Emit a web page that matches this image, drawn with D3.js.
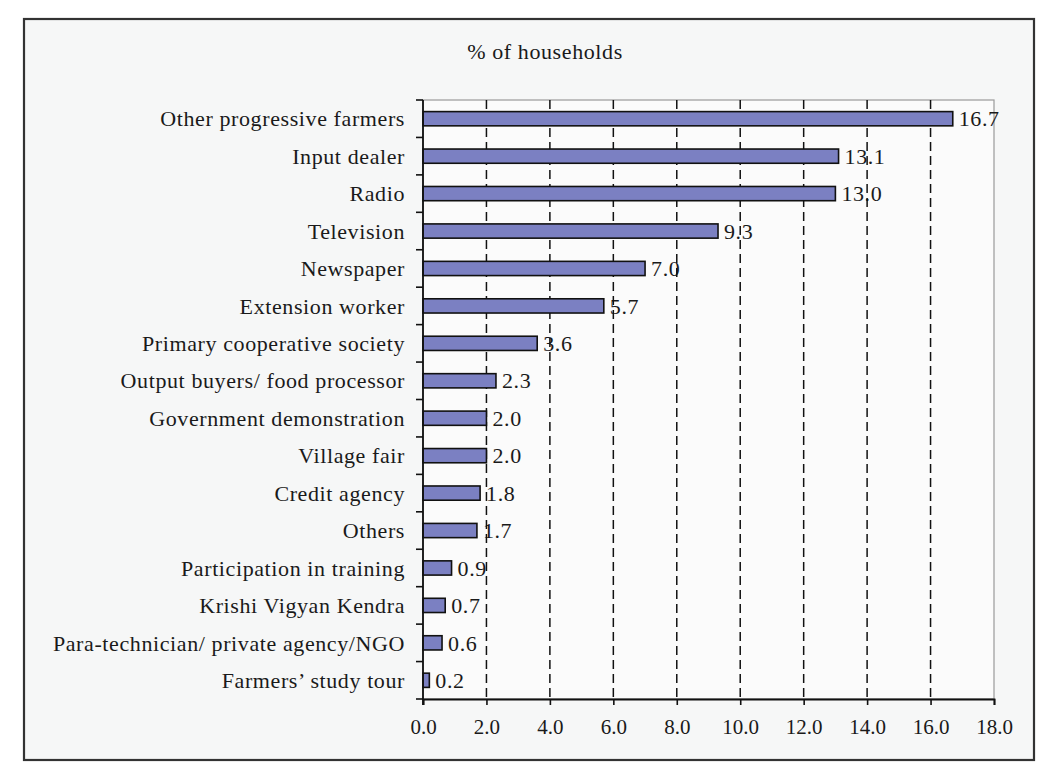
<!DOCTYPE html>
<html>
<head>
<meta charset="utf-8">
<script src="https://cdn.jsdelivr.net/npm/d3@7"></script>
<style>
  html, body { margin: 0; padding: 0; background: #ffffff; }
  svg { display: block; }
  text { font-family: "Liberation Serif", "Times New Roman", serif; fill: #1a1a1a; }
</style>
</head>
<body>
<svg id="chart" width="1063" height="766"></svg>
<script>
const title = "% of households";
const categories = [
  "Other progressive farmers",
  "Input dealer",
  "Radio",
  "Television",
  "Newspaper",
  "Extension worker",
  "Primary cooperative society",
  "Output buyers/ food processor",
  "Government demonstration",
  "Village fair",
  "Credit agency",
  "Others",
  "Participation in training",
  "Krishi Vigyan Kendra",
  "Para-technician/ private agency/NGO",
  "Farmers\u2019 study tour"
];
const values = [16.7, 13.1, 13.0, 9.3, 7.0, 5.7, 3.6, 2.3, 2.0, 2.0, 1.8, 1.7, 0.9, 0.7, 0.6, 0.2];
const xTicks = [0, 2, 4, 6, 8, 10, 12, 14, 16, 18];

const data = categories.map((c, i) => ({ cat: c, val: values[i] }));

const svg = d3.select("#chart");
const frame = { x: 24, y: 19, w: 1010, h: 741 };
const plot = { left: 423, right: 994, top: 100, bottom: 699 };
const fontSize = 22;
const spacing = "0.6px";

// outer frame
svg.append("rect")
  .attr("x", frame.x).attr("y", frame.y)
  .attr("width", frame.w).attr("height", frame.h)
  .attr("fill", "#f6f7f7")
  .attr("stroke", "#333")
  .attr("stroke-width", 2.2);

// plot area
svg.append("rect")
  .attr("x", plot.left).attr("y", plot.top)
  .attr("width", plot.right - plot.left).attr("height", plot.bottom - plot.top)
  .attr("fill", "#fbfbfb")
  .attr("stroke", "#9a9a9a")
  .attr("stroke-width", 1.2);

const x = d3.scaleLinear().domain([0, 18]).range([plot.left, plot.right]);
const yRow = d3.scaleBand().domain(categories).range([plot.top, plot.bottom]).padding(0);
const yBar = d3.scaleBand().domain(categories).range([plot.top, plot.bottom])
  .paddingInner(0.62).paddingOuter(0.31);

// title
svg.append("text")
  .attr("x", 545).attr("y", 59)
  .attr("text-anchor", "middle")
  .attr("font-size", fontSize)
  .attr("letter-spacing", spacing)
  .text(title);

// value labels (drawn beneath gridlines, as in the reference)
svg.append("g").selectAll("text").data(data).join("text")
  .attr("x", d => x(d.val) + 6)
  .attr("y", d => yRow(d.cat) + yRow.bandwidth() / 2)
  .attr("dy", "0.35em")
  .attr("font-size", fontSize)
  .attr("letter-spacing", spacing)
  .text(d => d3.format(".1f")(d.val));

// dashed gridlines
svg.append("g").selectAll("line").data(xTicks.filter(t => t > 0 && t < 18)).join("line")
  .attr("x1", d => x(d)).attr("x2", d => x(d))
  .attr("y1", plot.top).attr("y2", plot.bottom)
  .attr("stroke", "#111")
  .attr("stroke-width", 1.5)
  .attr("stroke-dasharray", "9,5");

// bars
svg.append("g").selectAll("rect").data(data).join("rect")
  .attr("x", x(0))
  .attr("y", d => yBar(d.cat))
  .attr("width", d => x(d.val) - x(0))
  .attr("height", yBar.bandwidth())
  .attr("fill", "#7b80c2")
  .attr("stroke", "#111")
  .attr("stroke-width", 1.6);

// y axis: line + ticks at row boundaries
const yAxisG = svg.append("g");
yAxisG.append("line")
  .attr("x1", plot.left).attr("x2", plot.left)
  .attr("y1", plot.top).attr("y2", plot.bottom + 6)
  .attr("stroke", "#111").attr("stroke-width", 1.8);
const boundaries = categories.map(c => yRow(c)).concat([plot.bottom]);
yAxisG.selectAll("line.tick").data(boundaries).join("line")
  .attr("class", "tick")
  .attr("x1", plot.left - 7).attr("x2", plot.left)
  .attr("y1", d => d).attr("y2", d => d)
  .attr("stroke", "#111").attr("stroke-width", 1.6);

// category labels
svg.append("g").selectAll("text").data(categories).join("text")
  .attr("x", plot.left - 18)
  .attr("y", d => yRow(d) + yRow.bandwidth() / 2)
  .attr("dy", "0.35em")
  .attr("text-anchor", "end")
  .attr("font-size", fontSize)
  .attr("letter-spacing", spacing)
  .text(d => d);

// x axis
const xAxis = d3.axisBottom(x)
  .tickValues(xTicks)
  .tickFormat(d3.format(".1f"))
  .tickSize(6)
  .tickPadding(14);
const xg = svg.append("g")
  .attr("transform", `translate(0,${plot.bottom})`)
  .call(xAxis);
xg.select(".domain").attr("stroke", "#111").attr("stroke-width", 1.8);
xg.selectAll(".tick line").attr("stroke", "#111").attr("stroke-width", 1.6);
xg.selectAll(".tick text")
  .attr("font-size", 21)
  .attr("font-family", "'Liberation Serif', 'Times New Roman', serif")
  .attr("fill", "#1a1a1a");
</script>
</body>
</html>
